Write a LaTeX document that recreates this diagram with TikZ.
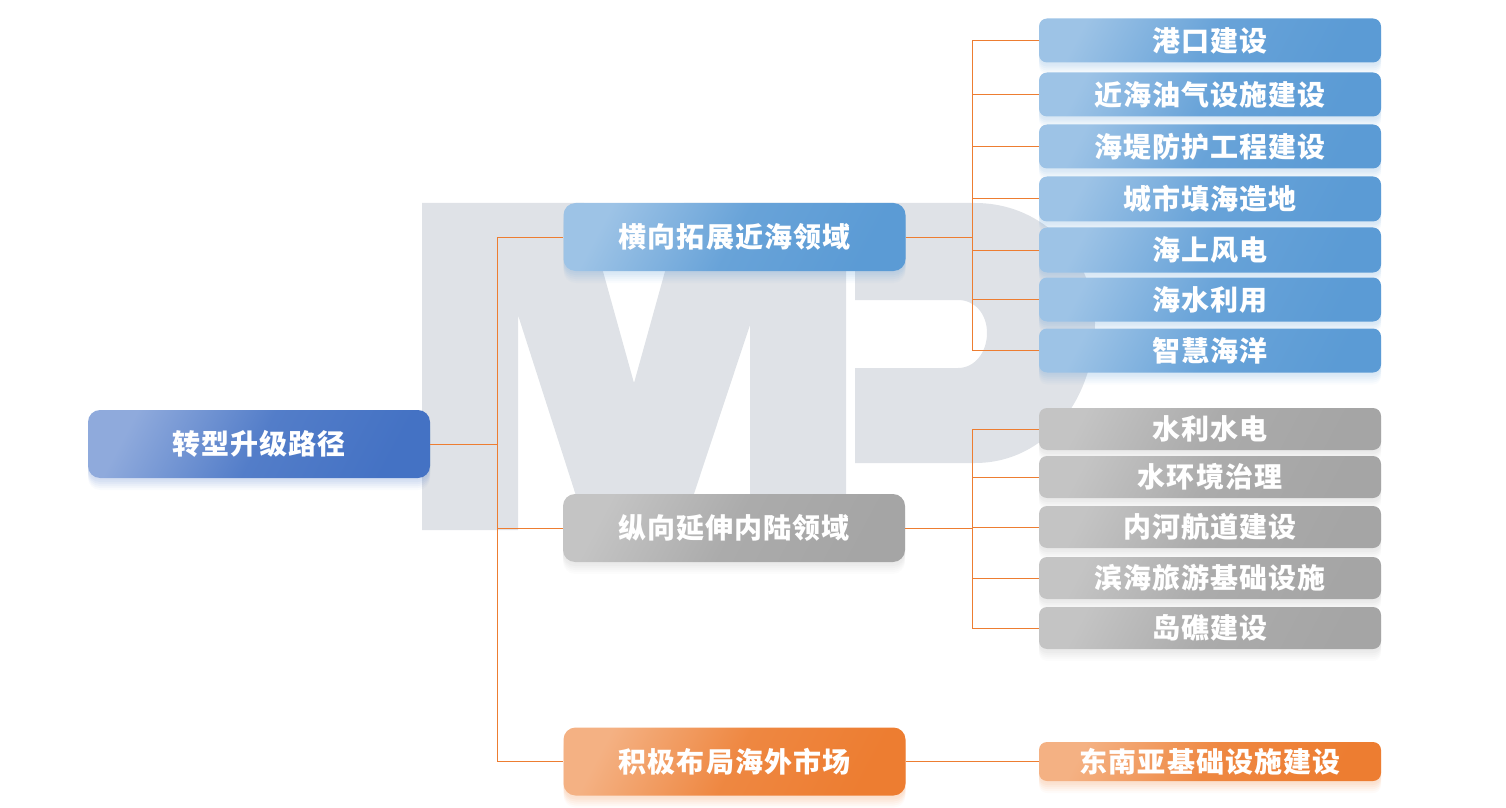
\documentclass[tikz,border=0pt]{standalone}
\usepackage{fontspec}
\setmainfont[LetterSpace=3.6]{Noto Sans CJK SC}
\usetikzlibrary{shadows}
\definecolor{linkO}{RGB}{237,125,49}
\definecolor{markG}{RGB}{223,226,231}
\definecolor{rootL}{RGB}{143,170,220}
\definecolor{rootR}{RGB}{68,114,196}
\definecolor{seaL}{RGB}{157,195,230}
\definecolor{seaR}{RGB}{91,155,213}
\definecolor{landL}{RGB}{196,196,196}
\definecolor{landR}{RGB}{165,165,165}
\definecolor{abroadL}{RGB}{244,177,131}
\definecolor{abroadR}{RGB}{237,125,49}

\begin{document}
\begin{tikzpicture}[x=0.5pt, y=-0.5pt, font=\fontsize{14pt}{16pt}\bfseries\selectfont]
  \useasboundingbox (0,0) rectangle (1506,808);
  \tikzset{
    softshadow/.style={
      general shadow={fill=#1, opacity=.04, shadow yshift=-1pt},
      general shadow={fill=#1, opacity=.05, shadow yshift=-2pt},
      general shadow={fill=#1, opacity=.05, shadow yshift=-3pt},
      general shadow={fill=#1, opacity=.05, shadow yshift=-4pt},
      general shadow={fill=#1, opacity=.04, shadow yshift=-5pt},
      general shadow={fill=#1, opacity=.03, shadow yshift=-6pt}},
    tile/.style n args={2}{text=white, inner sep=0pt, minimum width=171pt,
      softshadow=#2, left color=#1, right color=#2, middle color=#2!80!#1, shading angle=62},
    bigbox/.style={minimum height=34pt, rounded corners=6pt},
    seabox/.style={tile={seaL}{seaR}, rounded corners=4pt},
    landbox/.style={tile={landL}{landR}, rounded corners=4pt},
    abroadbox/.style={tile={abroadL}{abroadR}, rounded corners=4pt},
    link/.style={draw=linkO, line width=0.5pt}
  }

  % watermark
  \fill[markG] (422,203) -- (584,203) -- (634,383) -- (684,203) -- (846,203) -- (846,530)
    -- (750,530) -- (750,325) -- (682,530) -- (587,530) -- (518,315) -- (518,530) -- (422,530) -- cycle;
  \fill[markG] (855,203) -- (975,203) .. controls (1045,203) and (1095,260) .. (1095,323)
    .. controls (1095,400) and (1045,463) .. (975,463) -- (855,463) -- (855,368) -- (958,368)
    .. controls (975,368) and (987,352) .. (987,333) .. controls (987,314) and (975,300) .. (958,300)
    -- (855,300) -- cycle;

  % left side
  \node[tile={rootL}{rootR}, bigbox] (root) at (259,444) {转型升级路径};
  \node[tile={seaL}{seaR}, bigbox] (sea) at (734.5,237) {横向拓展近海领域};
  \node[tile={landL}{landR}, bigbox] (land) at (734,528) {纵向延伸内陆领域};
  \node[tile={abroadL}{abroadR}, bigbox] (abroad) at (734.5,761.5) {积极布局海外市场};

  % right side, sea
  \node[seabox, minimum height=22pt] (sea1) at (1210,40.5) {港口建设};
  \node[seabox, minimum height=22pt] (sea2) at (1210,94.5) {近海油气设施建设};
  \node[seabox, minimum height=22pt] (sea3) at (1210,146.5) {海堤防护工程建设};
  \node[seabox, minimum height=22.5pt] (sea4) at (1210,199) {城市填海造地};
  \node[seabox, minimum height=22.5pt] (sea5) at (1210,250) {海上风电};
  \node[seabox, minimum height=22pt] (sea6) at (1210,299.5) {海水利用};
  \node[seabox, minimum height=22pt] (sea7) at (1210,350.5) {智慧海洋};

  % right side, land
  \node[landbox, minimum height=21pt] (land1) at (1210,429) {水利水电};
  \node[landbox, minimum height=21pt] (land2) at (1210,477) {水环境治理};
  \node[landbox, minimum height=21pt] (land3) at (1210,527) {内河航道建设};
  \node[landbox, minimum height=21pt] (land4) at (1210,578) {滨海旅游基础设施};
  \node[landbox, minimum height=21pt] (land5) at (1210,628) {岛礁建设};

  \node[abroadbox, minimum height=19.5pt] (abroad1) at (1210,761.5) {东南亚基础设施建设};

  % connectors
  \coordinate (busRoot) at (497,444);
  \coordinate (busSea) at (972,237);
  \coordinate (busLand) at (972,528);
  \draw[link] (root.east) -- (busRoot);
  \foreach \n in {sea,land,abroad}
    \draw[link] (busRoot) |- (\n.west);
  \draw[link] (sea.east) -- (busSea);
  \foreach \i in {1,...,7}
    \draw[link] (busSea) |- (sea\i.west);
  \draw[link] (land.east) -- (busLand);
  \foreach \i in {1,...,5}
    \draw[link] (busLand) |- (land\i.west);
  \draw[link] (abroad.east) -- (abroad1.west);
\end{tikzpicture}
\end{document}
